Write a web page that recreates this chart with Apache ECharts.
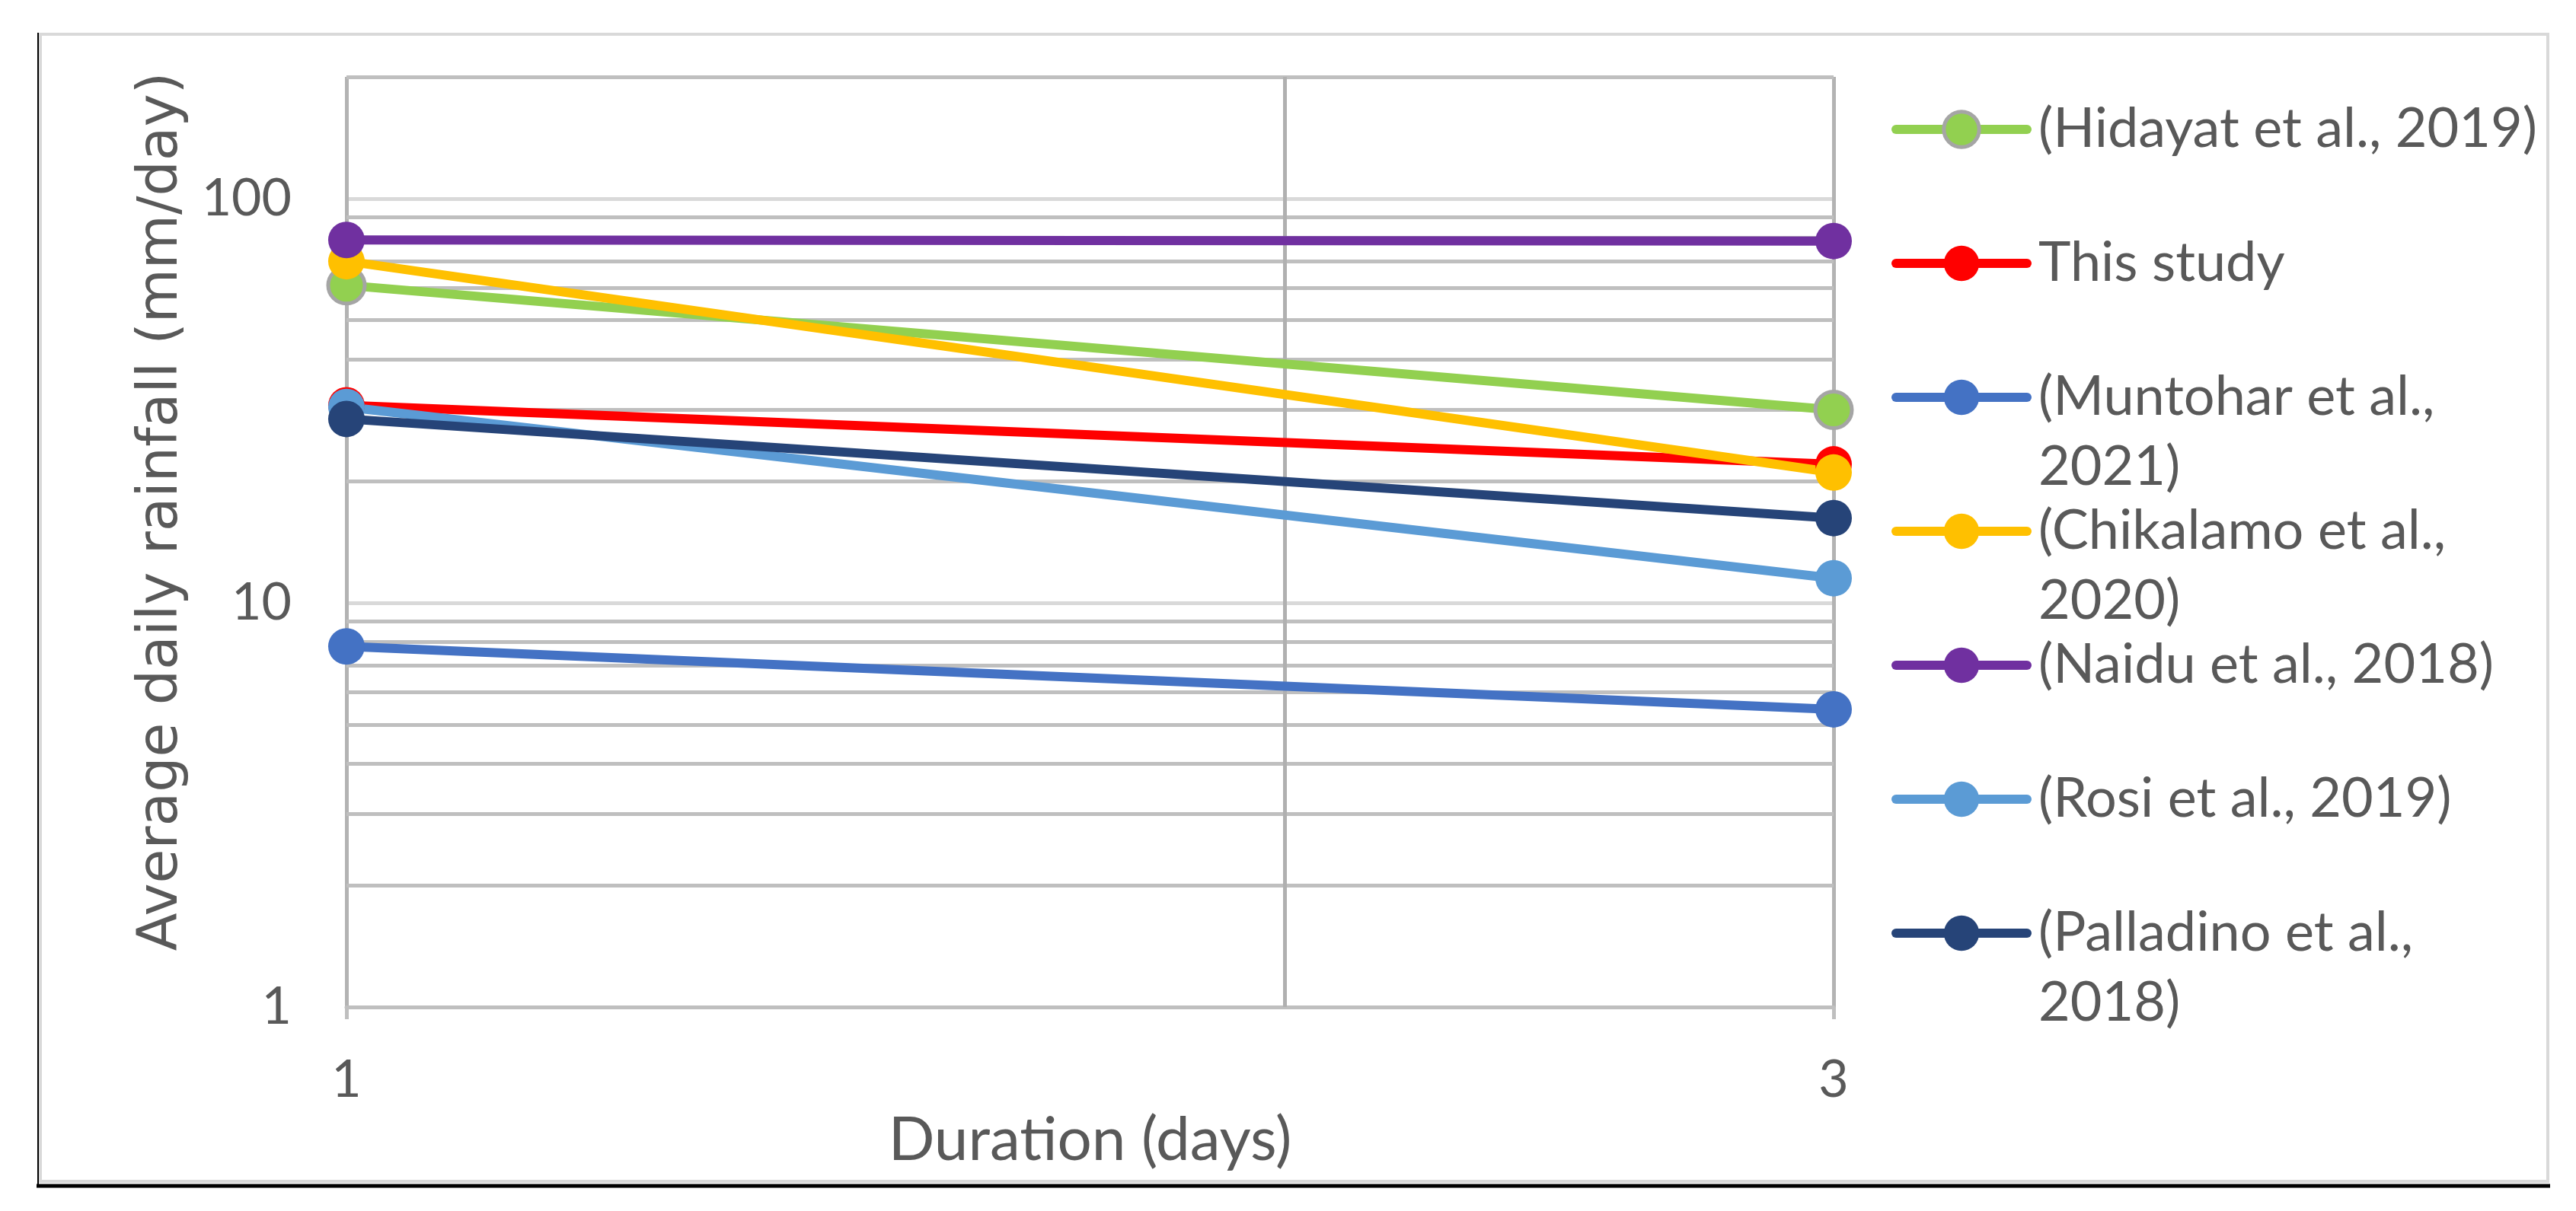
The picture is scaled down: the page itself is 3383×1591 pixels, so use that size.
<!DOCTYPE html>
<html><head><meta charset="utf-8">
<style>html,body{margin:0;padding:0;background:#fff}#c{width:3383px;height:1591px}</style>
<script src="https://cdn.jsdelivr.net/npm/echarts@6/dist/echarts.min.js"></script>
</head><body><div id="c"></div>
<script>
// ---- data ----
const durations = [1, 3];
const seriesNames = ['(Hidayat et al., 2019)', 'This study', '(Muntohar et al., 2021)', '(Chikalamo et al., 2020)', '(Naidu et al., 2018)', '(Rosi et al., 2019)', '(Palladino et al., 2018)'];
const legendLabels = ['(Hidayat et al., 2019)', 'This study', '(Muntohar et al.,\n2021)', '(Chikalamo et al.,\n2020)', '(Naidu et al., 2018)', '(Rosi et al., 2019)', '(Palladino et al.,\n2018)'];
const hidayat = [61, 30];
const thisStudy = [30.8, 22];
const muntohar = [7.8, 5.45];
const chikalamo = [70, 21];
const naidu = [79, 78.5];
const rosi = [30.5, 11.5];
const palladino = [28.5, 16.2];
const yTickLabels = [1, 10, 100];
const xTickLabels = [1, 3];
const yMinorGrid = [2, 3, 4, 5, 6, 7, 8, 9, 20, 30, 40, 50, 60, 70, 80, 90, 200];
const xMinorGrid = [2];
const yRange = [1, 200];
const xRange = [1, 3];

// ---- styles ----
const seriesValues = [hidayat, thisStudy, muntohar, chikalamo, naidu, rosi, palladino];
const seriesColors = ['#92D050', '#FF0000', '#4472C4', '#FFC000', '#7030A0', '#5B9BD5', '#264478'];
const CAL = 'Lato, "Noto Sans", sans-serif';
const TXT = '#595959';
const near = (list, v) => list.some(t => Math.abs(t - v) / t < 1e-6);

const chart = echarts.init(document.getElementById('c'), null, {renderer: 'canvas'});

const series = [{
  type: 'line', name: '', data: [], silent: true,
  markLine: {
    silent: true, z: 1, symbol: ['none', 'none'], label: {show: false},
    emphasis: {disabled: true},
    data: [
      ...yMinorGrid.map(v => ({yAxis: v, lineStyle: {color: '#BFBFBF', width: 5, type: 'solid'}})),
      ...xMinorGrid.map(v => ({xAxis: v, lineStyle: {color: '#B0B0B0', width: 5, type: 'solid'}}))
    ]
  }
}];
seriesNames.forEach((name, i) => {
  series.push({
    type: 'line', name,
    data: durations.map((d, j) => [d, seriesValues[i][j]]),
    symbol: 'circle', symbolSize: 48, showSymbol: true,
    lineStyle: {color: seriesColors[i], width: 12, cap: 'round'},
    itemStyle: i === 0 ? {color: seriesColors[i], borderColor: '#A5A5A5', borderWidth: 5} : {color: seriesColors[i]},
    emphasis: {disabled: true},
    z: 3
  });
});

const LH = 92;
const legends = seriesNames.map((name, i) => {
  const twoLine = legendLabels[i].indexOf('\n') >= 0;
  const center = 170 + i * 176;
  return {
    show: true, orient: 'vertical', left: 2484, top: twoLine ? center - 1.5 * LH : center - LH / 2,
    padding: 0, itemWidth: 172, itemHeight: 58, selectedMode: false,
    data: [name],
    lineStyle: {width: 12, cap: 'round', color: seriesColors[i]},
    itemStyle: i === 0 ? {color: seriesColors[i], borderColor: '#A5A5A5', borderWidth: 5} : {color: seriesColors[i]},
    formatter: () => (twoLine ? ' \n' : '') + legendLabels[i],
    textStyle: {fontFamily: CAL, fontSize: 72, color: TXT, lineHeight: LH, padding: [0, 0, 0, 10]}
  };
});

chart.setOption({
  animation: false,
  backgroundColor: '#fff',
  graphic: [
    {type: 'rect', shape: {x: 53, y: 45, width: 3293, height: 1507}, style: {fill: 'none', stroke: '#D9D9D9', lineWidth: 4}, z: -10},
    {type: 'line', shape: {x1: 48, y1: 1558, x2: 3349, y2: 1558}, style: {stroke: '#000', lineWidth: 5}, z: -10},
    {type: 'line', shape: {x1: 50, y1: 43, x2: 50, y2: 1558}, style: {stroke: '#000', lineWidth: 2}, z: -10}
  ],
  grid: {left: 455, right: 975, top: 101, bottom: 268, containLabel: false},
  legend: legends,
  xAxis: {
    type: 'log', logBase: 10, min: xRange[0], max: xRange[1],
    name: 'Duration (days)', nameLocation: 'middle', nameGap: 125,
    nameTextStyle: {fontFamily: CAL, fontSize: 80, color: TXT},
    axisLine: {show: true, lineStyle: {color: '#BFBFBF', width: 5}},
    axisTick: {show: true, length: 16, lineStyle: {color: '#BFBFBF', width: 5}},
    axisLabel: {fontFamily: CAL, fontSize: 68, color: TXT, margin: 62,
      formatter: v => near(xTickLabels, v) ? String(Math.round(v)) : ''},
    splitLine: {show: true, lineStyle: {color: '#B3B3B3', width: 5}},
    minorTick: {show: false}, minorSplitLine: {show: false}
  },
  yAxis: {
    type: 'log', logBase: 10, min: yRange[0], max: yRange[1],
    name: 'Average daily rainfall (mm/day)', nameLocation: 'middle', nameGap: 205, nameRotate: 90,
    nameTextStyle: {fontFamily: '"DejaVu Sans", sans-serif', fontSize: 73, color: TXT, padding: [0, 0, 0, 80]},
    axisLine: {show: false}, axisTick: {show: false},
    axisLabel: {fontFamily: CAL, fontSize: 68, color: TXT, margin: 72,
      formatter: v => near(yTickLabels, v) ? String(Math.round(v)) : ''},
    splitLine: {show: true, lineStyle: {color: '#D9D9D9', width: 5}},
    minorTick: {show: false}, minorSplitLine: {show: false}
  },
  series
});
</script></body></html>
